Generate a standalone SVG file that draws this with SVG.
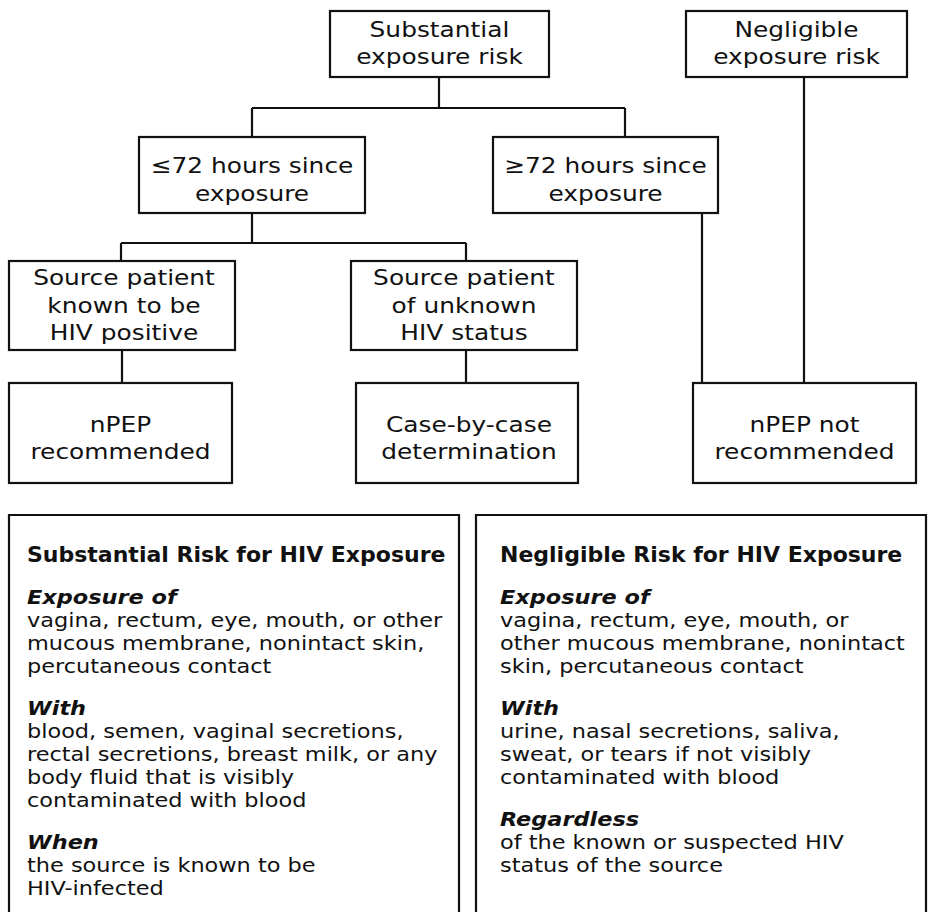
<svg xmlns="http://www.w3.org/2000/svg" width="929" height="912" viewBox="0 0 929 912">
<style>
.box{fill:#fff;stroke:#111;stroke-width:2.2}
.con{fill:none;stroke:#111;stroke-width:2.2}
.t{font-family:"DejaVu Sans","Liberation Sans",sans-serif;font-size:22px;fill:#111;text-anchor:middle}
.h{font-family:"DejaVu Sans","Liberation Sans",sans-serif;font-size:22px;font-weight:bold;fill:#111}
.s{font-family:"DejaVu Sans","Liberation Sans",sans-serif;font-size:19px;font-weight:bold;font-style:italic;fill:#111}
.b{font-family:"DejaVu Sans","Liberation Sans",sans-serif;font-size:19px;fill:#111}
</style>
<rect width="929" height="912" fill="#fff"/>
<g id="connectors">
<path class="con" d="M439,77V108M252,108H625M252,108V137M625,108V137"/>
<path class="con" d="M252,213V243M121,243H466M121,243V261M466,243V261"/>
<path class="con" d="M122,350V383"/>
<path class="con" d="M466,350V383"/>
<path class="con" d="M702,213V383"/>
<path class="con" d="M804,77V383"/>
</g>
<g id="substantial">
<rect class="box" x="330" y="11" width="219" height="66"/>
<g transform="scale(1.13,1)">
<text class="t" x="388.94" y="37">Substantial</text>
<text class="t" x="388.94" y="64">exposure risk</text>
</g>
</g>
<g id="negligible">
<rect class="box" x="686" y="11" width="221" height="66"/>
<g transform="scale(1.13,1)">
<text class="t" x="704.87" y="37">Negligible</text>
<text class="t" x="704.87" y="64">exposure risk</text>
</g>
</g>
<g id="le72">
<rect class="box" x="139" y="137" width="226" height="76"/>
<g transform="scale(1.13,1)">
<text class="t" x="223.01" y="173">≤72 hours since</text>
<text class="t" x="223.01" y="201">exposure</text>
</g>
</g>
<g id="ge72">
<rect class="box" x="493" y="137" width="225" height="76"/>
<g transform="scale(1.13,1)">
<text class="t" x="535.84" y="173">≥72 hours since</text>
<text class="t" x="535.84" y="201">exposure</text>
</g>
</g>
<g id="known">
<rect class="box" x="9" y="261" width="226" height="89"/>
<g transform="scale(1.13,1)">
<text class="t" x="109.73" y="285">Source patient</text>
<text class="t" x="109.73" y="313">known to be</text>
<text class="t" x="109.73" y="340">HIV positive</text>
</g>
</g>
<g id="unknown">
<rect class="box" x="351" y="261" width="226" height="89"/>
<g transform="scale(1.13,1)">
<text class="t" x="410.62" y="285">Source patient</text>
<text class="t" x="410.62" y="313">of unknown</text>
<text class="t" x="410.62" y="340">HIV status</text>
</g>
</g>
<g id="npep-rec">
<rect class="box" x="9" y="383" width="223" height="100"/>
<g transform="scale(1.13,1)">
<text class="t" x="106.64" y="432">nPEP</text>
<text class="t" x="106.64" y="459">recommended</text>
</g>
</g>
<g id="case">
<rect class="box" x="356" y="383" width="222" height="100"/>
<g transform="scale(1.13,1)">
<text class="t" x="415.04" y="432">Case-by-case</text>
<text class="t" x="415.04" y="459">determination</text>
</g>
</g>
<g id="npep-not">
<rect class="box" x="693" y="383" width="223" height="100"/>
<g transform="scale(1.13,1)">
<text class="t" x="711.95" y="432">nPEP not</text>
<text class="t" x="711.95" y="459">recommended</text>
</g>
</g>
<g id="substantial-info">
<path class="con" d="M9,925V515H459V925"/>
<text class="h" x="27" y="562">Substantial Risk for HIV Exposure</text>
<g transform="scale(1.18,1)">
<text class="s" x="22.88" y="604">Exposure of</text>
<text class="b" x="22.88" y="627">vagina, rectum, eye, mouth, or other</text>
<text class="b" x="22.88" y="650">mucous membrane, nonintact skin,</text>
<text class="b" x="22.88" y="673">percutaneous contact</text>
<text class="s" x="22.88" y="715">With</text>
<text class="b" x="22.88" y="738">blood, semen, vaginal secretions,</text>
<text class="b" x="22.88" y="761">rectal secretions, breast milk, or any</text>
<text class="b" x="22.88" y="784">body fluid that is visibly</text>
<text class="b" x="22.88" y="807">contaminated with blood</text>
<text class="s" x="22.88" y="849">When</text>
<text class="b" x="22.88" y="872">the source is known to be</text>
<text class="b" x="22.88" y="895">HIV-infected</text>
</g>
</g>
<g id="negligible-info">
<path class="con" d="M476,925V515H926V925"/>
<text class="h" x="500" y="562">Negligible Risk for HIV Exposure</text>
<g transform="scale(1.18,1)">
<text class="s" x="423.73" y="604">Exposure of</text>
<text class="b" x="423.73" y="627">vagina, rectum, eye, mouth, or</text>
<text class="b" x="423.73" y="650">other mucous membrane, nonintact</text>
<text class="b" x="423.73" y="673">skin, percutaneous contact</text>
<text class="s" x="423.73" y="715">With</text>
<text class="b" x="423.73" y="738">urine, nasal secretions, saliva,</text>
<text class="b" x="423.73" y="761">sweat, or tears if not visibly</text>
<text class="b" x="423.73" y="784">contaminated with blood</text>
<text class="s" x="423.73" y="826">Regardless</text>
<text class="b" x="423.73" y="849">of the known or suspected HIV</text>
<text class="b" x="423.73" y="872">status of the source</text>
</g>
</g>
</svg>
